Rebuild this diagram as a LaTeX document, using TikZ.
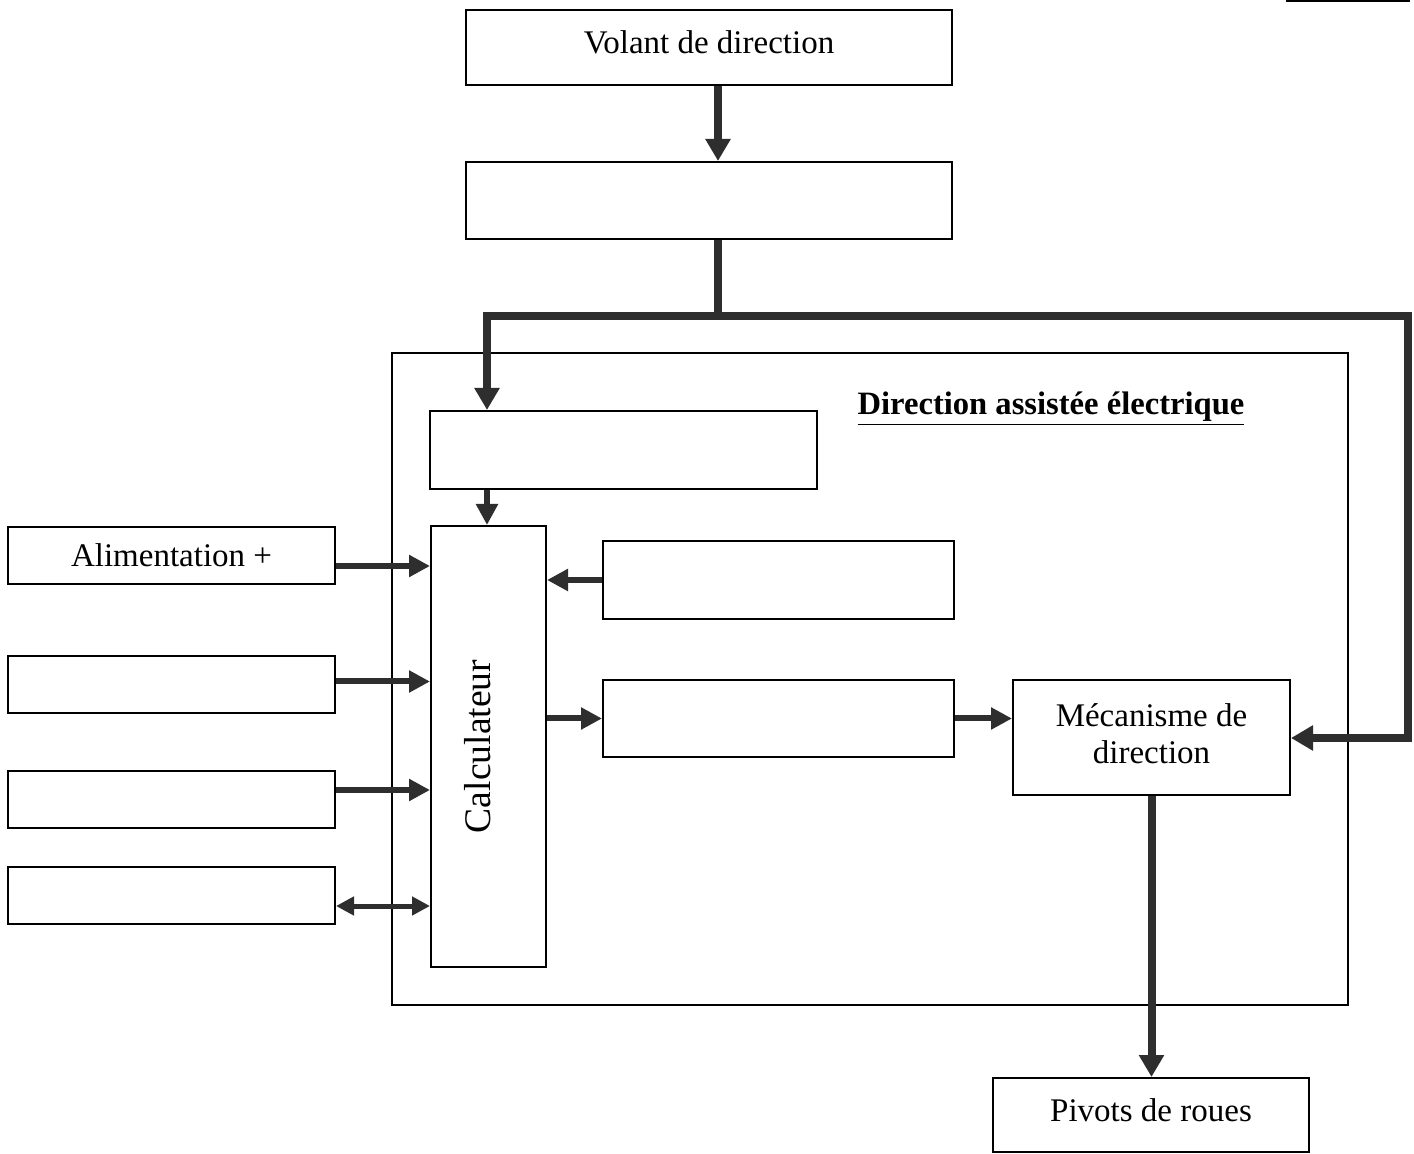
\documentclass[tikz,border=0pt]{standalone}
\usepackage{fontspec}
\setmainfont{Liberation Serif}
\usetikzlibrary{arrows.meta}
\begin{document}
\begin{tikzpicture}[x=0.5pt,y=-0.5pt,
  box/.style={draw, line width=1pt, inner sep=0pt, align=center, font=\fontsize{16.5}{18.5}\selectfont},
  fat/.style={draw=black!82, line width=4pt, line join=miter},
  fatarrow/.style={fat, -{Triangle[width=12pt,length=11pt]}},
  thinarrow/.style={draw=black!82, line width=3pt, -{Triangle[width=10.5pt,length=10.5pt]}},
  dblarrow/.style={draw=black!82, line width=2.5pt, {Triangle[width=9pt,length=9pt]}-{Triangle[width=9pt,length=9pt]}}]
\useasboundingbox (0,0) rectangle (1414,1154);
\fill[white] (0,0) rectangle (1414,1154);
% outer box
\node[draw, line width=0.8pt, minimum width=478pt, minimum height=326pt, inner sep=0pt] (dae) at (870,679) {};
\node[font=\fontsize{16.3}{18}\selectfont\bfseries] (title) at (1051,409) {\underline{Direction assistée électrique}};
% boxes
\node[box, minimum width=243pt, minimum height=37.5pt] (vol) at (709,47.5) {\raisebox{5.5pt}{Volant de direction}};
\node[box, minimum width=243pt, minimum height=38.5pt] (b2) at (709,200.5) {};
\node[box, minimum width=193.5pt, minimum height=39pt] (inner) at (623.5,450) {};
\node[box, minimum width=57.5pt, minimum height=220.5pt] (calc) at (488.5,746.5) {};
\node[font=\fontsize{18.8}{20}\selectfont, rotate=90] (calctxt) at ([xshift=-5.5pt]calc.center) {Calculateur};
\node[box, minimum width=163.5pt, minimum height=28.5pt] (alim) at (171.5,555.5) {Alimentation +};
\node[box, minimum width=163.5pt, minimum height=28.5pt] (l2) at (171.5,684.5) {};
\node[box, minimum width=163.5pt, minimum height=28.5pt] (l3) at (171.5,799.5) {};
\node[box, minimum width=163.5pt, minimum height=28.5pt] (l4) at (171.5,895.5) {};
\node[box, minimum width=175.5pt, minimum height=39pt] (ra) at (778.5,580) {};
\node[box, minimum width=175.5pt, minimum height=38.5pt] (rb) at (778.5,718.5) {};
\node[box, minimum width=138.5pt, minimum height=57.5pt] (meca) at (1151.5,737.5) {\raisebox{6pt}{\begin{tabular}{@{}c@{}}Mécanisme de\\direction\end{tabular}}};
\node[box, minimum width=158pt, minimum height=37pt] (piv) at (1151,1115) {\raisebox{5pt}{Pivots de roues}};
% routing coordinates
\coordinate (J) at (718,316);
\coordinate (c1) at (487,316);
\coordinate (c2) at (1408,316);
\coordinate (c3) at (1408,738);
\coordinate (a1) at ([yshift=-5.25pt]alim.east);
\coordinate (a2) at ([yshift=1.5pt]l2.east);
\coordinate (a3) at ([yshift=4.75pt]l3.east);
\coordinate (a4) at ([yshift=-5.25pt]l4.east);
% arrows
\draw[fatarrow] (vol.south -| J) -- (b2.north -| J);
\draw[fat] (b2.south -| J) -- (J);
\draw[fatarrow] (J) -- (c1) -- (inner.north -| c1);
\draw[fatarrow] (J) -- (c2) -- (c3) -- (meca.east |- c3);
\draw[thinarrow] (inner.south -| c1) -- (calc.north -| c1);
\draw[thinarrow] (a1) -- (calc.west |- a1);
\draw[thinarrow] (a2) -- (calc.west |- a2);
\draw[thinarrow] (a3) -- (calc.west |- a3);
\draw[dblarrow] (a4) -- (calc.west |- a4);
\draw[thinarrow] (ra.west) -- (calc.east |- ra.west);
\draw[thinarrow] (calc.east |- rb.west) -- (rb.west);
\draw[thinarrow] (rb.east) -- (meca.west |- rb.east);
\draw[fatarrow] (meca.south) -- (piv.north -| meca.south);
% fragment at top right
\draw[line width=1pt] (1286,1.5) -- (1410,1.5);
\end{tikzpicture}
\end{document}
